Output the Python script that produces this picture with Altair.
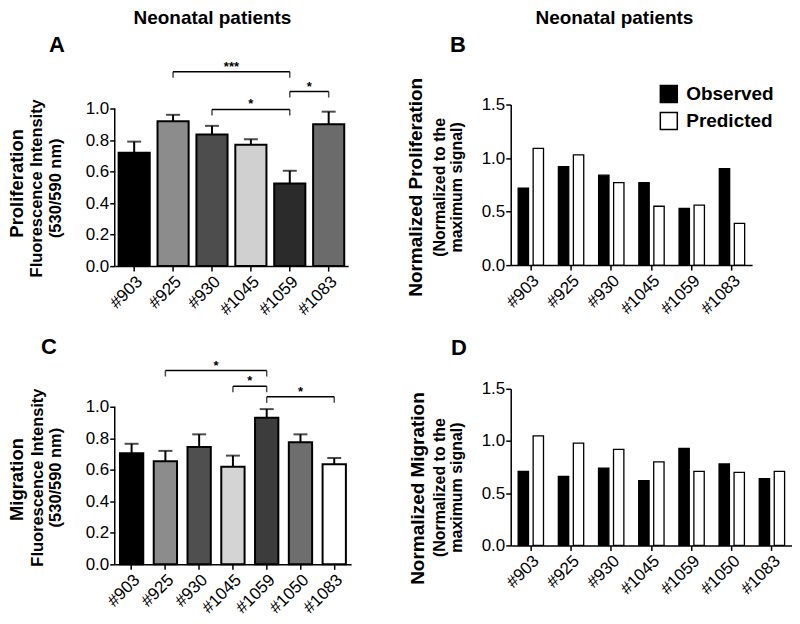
import altair as alt
import pandas as pd

FONT = "Liberation Sans"

# ---------------- data ----------------
patients_A = ["#903", "#925", "#930", "#1045", "#1059", "#1083"]
prolif_mean = [0.72, 0.92, 0.835, 0.77, 0.525, 0.90]
prolif_errtop = [0.79, 0.96, 0.89, 0.805, 0.605, 0.98]
prolif_fill = ["#000000", "#8c8c8c", "#4d4d4d", "#d0d0d0", "#2b2b2b", "#6b6b6b"]
# brackets: (from index, to index, level, label)
prolif_brackets = [(1, 4, 1.234, "***"), (2, 4, 0.994, "*"), (4, 5, 1.108, "*")]

patients_C = ["#903", "#925", "#930", "#1045", "#1059", "#1050", "#1083"]
migr_mean = [0.705, 0.655, 0.745, 0.62, 0.93, 0.775, 0.635]
migr_errtop = [0.765, 0.72, 0.825, 0.69, 0.985, 0.825, 0.675]
migr_fill = ["#000000", "#8c8c8c", "#4f4f4f", "#d4d4d4", "#3c3c3c", "#6e6e6e", "#ffffff"]
migr_brackets = [(1, 4, 1.23, "*"), (3, 4, 1.13, "*"), (4, 6, 1.063, "*")]

series = ["Observed", "Predicted"]
prolif_obs = [0.72, 0.92, 0.84, 0.77, 0.53, 0.90]
prolif_pred = [1.09, 1.03, 0.77, 0.55, 0.56, 0.39]
migr_obs = [0.71, 0.66, 0.74, 0.62, 0.93, 0.78, 0.64]
migr_pred = [1.05, 0.98, 0.92, 0.80, 0.71, 0.70, 0.71]

ticks_mean = [0.0, 0.2, 0.4, 0.6, 0.8, 1.0]
ticks_norm = [0.0, 0.5, 1.0, 1.5]


def text_label(txt, x, y, size, angle=0, weight="bold"):
    return alt.Chart(pd.DataFrame({"t": [txt]})).mark_text(
        font=FONT, fontSize=size, fontWeight=weight, angle=angle,
        align="center", baseline="middle", color="black"
    ).encode(text="t:N", x=alt.value(x), y=alt.value(y))


def x_axis():
    return alt.Axis(title=None, labelAngle=-45, labelFontSize=17, tickSize=5,
                    labelPadding=2, labelFont=FONT, labelColor="black", labelOverlap=False,
                    domainColor="black", tickColor="black", domainWidth=1.5, tickWidth=1.5)


def y_axis(vals, show_domain=True):
    return alt.Axis(title=None, values=vals, format=".1f", labelFontSize=17, tickSize=5,
                    labelPadding=1, labelFont=FONT, labelColor="black", grid=False,
                    labelOverlap=False, labelFlush=False,
                    domain=show_domain, domainColor="black", tickColor="black",
                    domainWidth=1.5, tickWidth=1.5)


def mean_panel(patients, means, errs, fills, brackets, width, height, ymax,
               pad_inner, labels):
    n = len(patients)
    df = pd.DataFrame({"patient": patients, "value": means, "err": errs, "fill": fills})
    br = pd.DataFrame({
        "x1": [b[0] for b in brackets],
        "x2": [b[1] for b in brackets],
        "level": [b[2] for b in brackets],
        "label": [b[3] for b in brackets],
    })
    br["mid"] = (br["x1"] + br["x2"]) / 2
    yscale = alt.Scale(domain=[0, ymax], nice=False)
    xi = alt.Scale(domain=[-0.5, n - 0.5], nice=False, zero=False)

    def Y(field):
        return alt.Y(field, scale=yscale, axis=y_axis(ticks_mean, False))

    bars = alt.Chart(df).mark_bar(stroke="black", strokeWidth=2).encode(
        x=alt.X("patient:N", sort=patients,
                scale=alt.Scale(paddingInner=pad_inner, paddingOuter=pad_inner / 2),
                axis=x_axis()),
        y=Y("value:Q"),
        color=alt.Color("fill:N", scale=None),
    )
    axis_line = alt.Chart(pd.DataFrame({"y0": [0.0], "y1": [1.0]})).mark_rule(
        color="black", strokeWidth=1.5).encode(x=alt.value(0), y=Y("y0:Q"), y2="y1:Q")
    err = alt.Chart(df).mark_rule(color="black", strokeWidth=2).encode(
        x=alt.X("patient:N", sort=patients, axis=None), y=Y("value:Q"), y2="err:Q")
    caps = alt.Chart(df).mark_tick(color="black", size=14, thickness=2).encode(
        x=alt.X("patient:N", sort=patients, axis=None), y=Y("err:Q"))
    br_line = alt.Chart(br).mark_rule(color="black", strokeWidth=1.5).encode(
        x=alt.X("x1:Q", scale=xi, axis=None), x2="x2:Q", y=Y("level:Q"))
    br_l = alt.Chart(br).mark_tick(color="black", orient="vertical", size=6, thickness=1.5,
                                   yOffset=3).encode(
        x=alt.X("x1:Q", scale=xi, axis=None), y=Y("level:Q"))
    br_r = alt.Chart(br).mark_tick(color="black", orient="vertical", size=6, thickness=1.5,
                                   yOffset=3).encode(
        x=alt.X("x2:Q", scale=xi, axis=None), y=Y("level:Q"))
    br_t = alt.Chart(br).mark_text(font=FONT, fontSize=13, fontWeight="bold", dy=-5,
                                   baseline="middle", color="black").encode(
        x=alt.X("mid:Q", scale=xi, axis=None), y=Y("level:Q"), text="label:N")
    layers = [bars, axis_line, err, caps, br_line, br_l, br_r, br_t] + labels
    return alt.layer(*layers).resolve_scale(x="independent").properties(
        width=width, height=height)


def compare_panel(patients, obs, pred, width, height, labels, with_legend):
    rows = []
    for p, o, q in zip(patients, obs, pred):
        rows.append({"patient": p, "series": "Observed", "value": o})
        rows.append({"patient": p, "series": "Predicted", "value": q})
    df = pd.DataFrame(rows)
    if with_legend:
        color = alt.Color("series:N", sort=series,
                          scale=alt.Scale(domain=series, range=["#000000", "#ffffff"]),
                          legend=alt.Legend(title=None, orient="none", legendX=149, legendY=-20,
                                            symbolType="square", symbolSize=289,
                                            symbolStrokeColor="black", symbolStrokeWidth=1.5,
                                            labelFontSize=19, labelFont=FONT,
                                            labelFontWeight="bold", labelColor="black",
                                            labelOffset=8, rowPadding=4, padding=0))
    else:
        df["fill"] = df["series"].map({"Observed": "#000000", "Predicted": "#ffffff"})
        color = alt.Color("fill:N", scale=None)
    bars = alt.Chart(df).mark_bar(stroke="black", strokeWidth=1.3).encode(
        x=alt.X("patient:N", sort=patients,
                scale=alt.Scale(paddingInner=0.37, paddingOuter=0.185), axis=x_axis()),
        xOffset=alt.XOffset("series:N", sort=series,
                            scale=alt.Scale(paddingInner=0.31, paddingOuter=0)),
        y=alt.Y("value:Q", scale=alt.Scale(domain=[0, 1.5], nice=False),
                axis=y_axis(ticks_norm)),
        color=color,
    )
    return alt.layer(bars, *labels).properties(width=width, height=height)


# A: plot top at 1.0253 so that it lines up with B (1.0 sits 4 px lower)
A = mean_panel(
    patients_A, prolif_mean, prolif_errtop, prolif_fill, prolif_brackets,
    234, 162, 162 / 158, 0.2,
    [text_label("Neonatal patients", 98, -87, 19),
     text_label("A", -58, -60, 22),
     text_label("Proliferation", -98, 79, 18.5, angle=270),
     text_label("Fluorescence Intensity", -78, 84, 16.5, angle=270),
     text_label("(530/590 nm)", -59, 84, 16.5, angle=270)],
)

# C: plot top extended to line up with D (1.0 sits 18 px lower)
C = mean_panel(
    patients_C, migr_mean, migr_errtop, migr_fill, migr_brackets,
    237, 176, 176 / 158, 0.31,
    [text_label("C", -66, -42, 22),
     text_label("Migration", -98, 91, 18.5, angle=270),
     text_label("Fluorescence Intensity", -77, 89, 16.5, angle=270),
     text_label("(530/590 nm)", -59, 89, 16.5, angle=270)],
)

B = compare_panel(
    patients_A, prolif_obs, prolif_pred, 242, 161,
    [text_label("Neonatal patients", 104, -87, 19),
     text_label("B", -53, -60, 22),
     text_label("Normalized Proliferation", -95, 83, 19, angle=270),
     text_label("(Normalized to the", -71, 83, 16, angle=270),
     text_label("maximum signal)", -54, 83, 16, angle=270)],
    True,
)

D = compare_panel(
    patients_C, migr_obs, migr_pred, 282, 157,
    [text_label("D", -52, -41, 22),
     text_label("Normalized Migration", -93, 100, 19, angle=270),
     text_label("(Normalized to the", -71, 99, 16, angle=270),
     text_label("maximum signal)", -54, 99, 16, angle=270)],
    False,
)

chart = alt.concat(
    A, B, C, D, columns=2, spacing={"row": 123, "column": 160}, bounds="flush"
).resolve_scale(
    color="independent"
).properties(padding={"left": 0, "top": 0, "right": 0, "bottom": 0}).configure_view(
    stroke=None
)

chart.save("out.html", embed_options={"renderer": "svg", "actions": False})
